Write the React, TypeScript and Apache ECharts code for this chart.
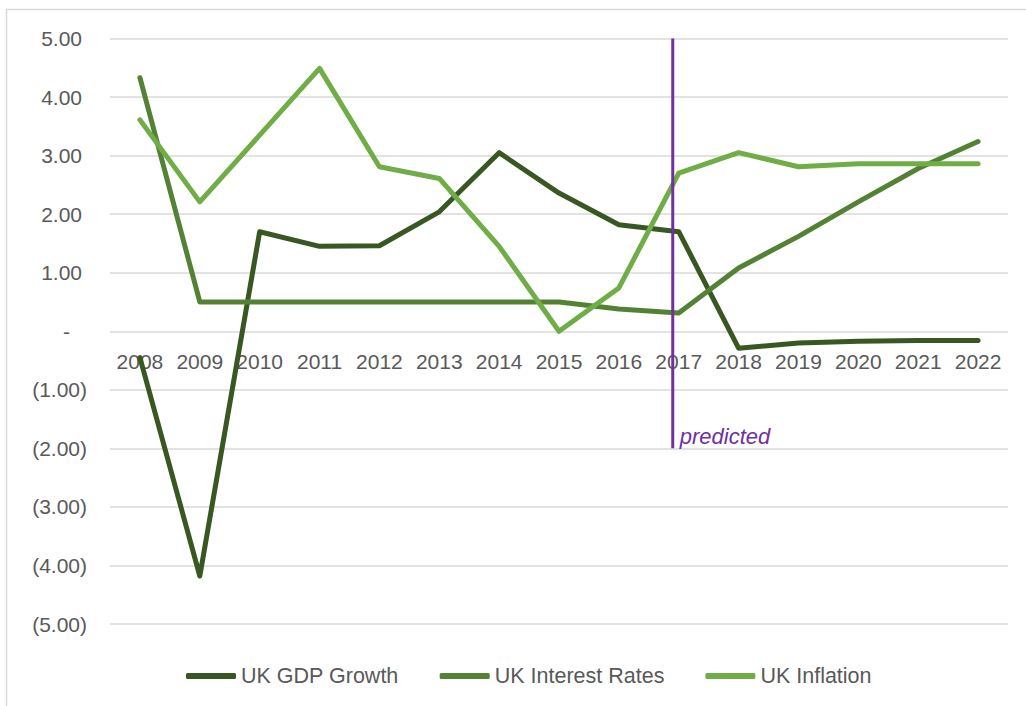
import React, { useEffect, useRef } from "react";
import * as echarts from "echarts";

const years = ["2008","2009","2010","2011","2012","2013","2014","2015","2016","2017","2018","2019","2020","2021","2022"];
const gdpGrowth = [-0.45, -4.18, 1.7, 1.45, 1.46, 2.04, 3.05, 2.36, 1.82, 1.7, -0.29, -0.2, -0.17, -0.16, -0.16];
const interestRates = [4.33, 0.5, 0.5, 0.5, 0.5, 0.5, 0.5, 0.5, 0.38, 0.31, 1.08, 1.62, 2.21, 2.78, 3.24];
const inflation = [3.61, 2.21, 3.35, 4.49, 2.81, 2.61, 1.45, 0.0, 0.74, 2.7, 3.05, 2.81, 2.86, 2.86, 2.86];
// predicted marker: on a continuous year axis (2008 band = 0..1), slightly left of the 2017 centre (9.5)
const predictedX = 9.4;
const predictedTop = 5;
const predictedBottom = -2;
const predictedLabelValue = -1.8;

const FONT = "'Liberation Sans', Arial, sans-serif";
const TEXT = "#595959";

export default function App() {
  const ref = useRef<HTMLDivElement>(null);
  useEffect(() => {
    document.body.style.margin = "0";
    if (!ref.current) return;
    const chart = echarts.init(ref.current, null, { renderer: "svg" });
    const fmt = (v: number) => {
      if (Math.abs(v) < 1e-9) return "{z|-}";
      if (v < 0) return "{n|(" + Math.abs(v).toFixed(2) + ")}";
      return "{p|" + v.toFixed(2) + "}";
    };
    const top = 38.5;
    const bottom = 82;
    const plotH = 706 - top - bottom;
    const zeroOffset = -plotH / 2;
    chart.setOption({
      animation: false,
      backgroundColor: "#ffffff",
      textStyle: { fontFamily: FONT },
      graphic: [
        {
          type: "rect",
          shape: { x: 6.5, y: 9.5, width: 1040, height: 720 },
          style: { fill: "none", stroke: "#d9d9d9", lineWidth: 1.5 },
          silent: true,
          z: -10,
        },
      ],
      grid: { left: 110, right: 18, top: top, bottom: bottom, containLabel: false },
      legend: {
        left: 181,
        top: 660,
        icon: "roundRect",
        itemWidth: 50,
        itemHeight: 6,
        itemGap: 41,
        textStyle: { fontSize: 21.5, color: TEXT, fontFamily: FONT },
        data: ["UK GDP Growth", "UK Interest Rates", "UK Inflation"],
      },
      xAxis: [
        {
          type: "category",
          data: years,
          boundaryGap: true,
          position: "bottom",
          offset: zeroOffset,
          axisLine: { show: false, onZero: false },
          axisTick: { show: false },
          axisLabel: { fontSize: 21, color: TEXT, margin: 20, fontFamily: FONT, interval: 0 },
          z: 1,
        },
        {
          type: "value",
          min: 0,
          max: years.length,
          show: false,
        },
      ],
      yAxis: {
        type: "value",
        min: -5,
        max: 5,
        interval: 1,
        axisLine: { show: false },
        axisTick: { show: false },
        splitLine: { lineStyle: { color: "#d9d9d9", width: 1.5 } },
        axisLabel: {
          margin: 23,
          formatter: fmt,
          rich: {
            p: { fontSize: 21, color: TEXT, fontFamily: FONT, padding: [0, 5, 0, 0] },
            n: { fontSize: 21, color: TEXT, fontFamily: FONT },
            z: { fontSize: 21, color: TEXT, fontFamily: FONT, padding: [0, 17, 0, 0] },
          },
        },
      },
      series: [
        {
          name: "UK GDP Growth",
          type: "line",
          data: gdpGrowth,
          symbol: "none",
          color: "#385723",
          lineStyle: { width: 5, color: "#385723", cap: "round", join: "round" },
          z: 3,
        },
        {
          name: "UK Interest Rates",
          type: "line",
          data: interestRates,
          symbol: "none",
          color: "#548235",
          lineStyle: { width: 5, color: "#548235", cap: "round", join: "round" },
          z: 3,
        },
        {
          name: "UK Inflation",
          type: "line",
          data: inflation,
          symbol: "none",
          color: "#70AD47",
          lineStyle: { width: 5, color: "#70AD47", cap: "round", join: "round" },
          z: 3,
        },
        {
          name: "predicted",
          type: "line",
          xAxisIndex: 1,
          data: [
            [predictedX, predictedTop],
            [predictedX, predictedBottom],
          ],
          symbol: "none",
          silent: true,
          color: "#7030A0",
          lineStyle: { width: 3, color: "#7030A0", cap: "butt" },
          z: 4,
          markPoint: {
            silent: true,
            symbol: "rect",
            symbolSize: 0,
            data: [{ coord: [predictedX, predictedLabelValue] }],
            label: {
              show: true,
              position: "right",
              distance: 7,
              formatter: "predicted",
              color: "#7030A0",
              fontStyle: "italic",
              fontSize: 22,
              fontFamily: FONT,
            },
          },
        },
      ],
    });
    return () => chart.dispose();
  }, []);
  return <div ref={ref} style={{ width: 1026, height: 706 }} />;
}
